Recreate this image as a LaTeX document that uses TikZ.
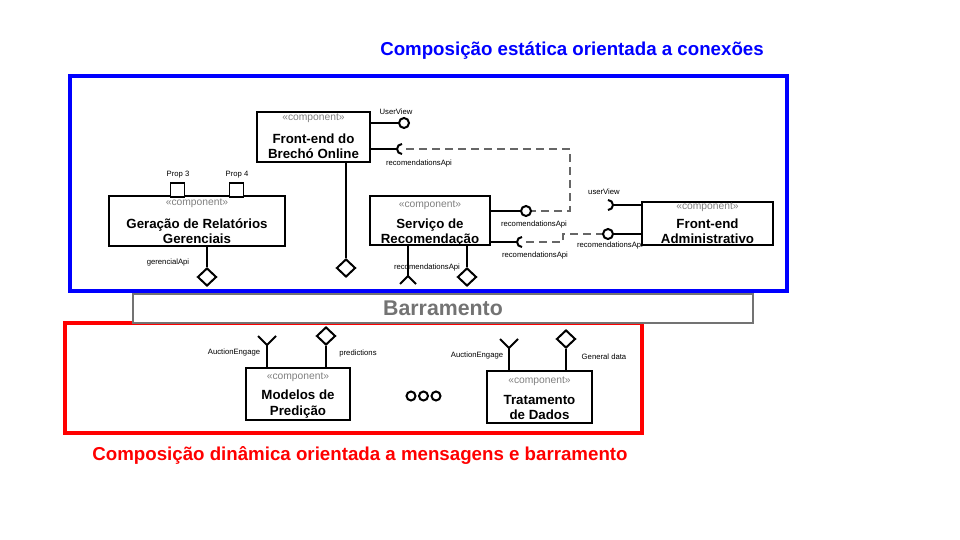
\documentclass[tikz,border=0pt]{standalone}
\usepackage{fontspec}
\setmainfont{Liberation Sans}
\usetikzlibrary{shapes.geometric}
\begin{document}
\begin{tikzpicture}[x=1pt,y=-1pt,
  comp/.style={draw, line width=2pt, inner sep=0pt, fill=white},
  stereo/.style={text=black!50, font=\fontsize{10.3}{12}\selectfont, inner sep=0pt},
  cname/.style={font=\bfseries\fontsize{13.3}{15.2}\selectfont, align=center, inner sep=0pt},
  small/.style={font=\fontsize{7.7}{9}\selectfont, inner sep=0pt},
  lolli/.style={circle, draw, line width=2pt, minimum size=10pt, inner sep=0pt},
  diam/.style={diamond, draw, line width=2pt, minimum width=19pt, minimum height=18pt, inner sep=0pt, fill=white},
  port/.style={draw, line width=1.8pt, minimum size=14pt, inner sep=0pt, fill=white},
  wire/.style={line width=2pt},
  dwire/.style={line width=2pt, draw=black!60, dash pattern=on 8pt off 5pt},
  title/.style={font=\bfseries\fontsize{18.7}{22}\selectfont, inner sep=0pt},
]
\useasboundingbox (0,0) rectangle (960,540);

% containers
\draw[red, line width=3.5pt] (65,323) rectangle (642,433);
\draw[blue, line width=4.5pt] (70,76) rectangle (787,291);
\node[draw=black!55, line width=2pt, fill=white, minimum width=620pt, minimum height=29pt, inner sep=0pt,
      text=black!55, font=\bfseries\fontsize{21.3}{24}\selectfont] (bus) at (443,308) {Barramento};

\node[title, text=blue] (t1) at (572,51) {Composição estática orientada a conexões};
\node[title, text=red] (t2) at (360,455) {Composição dinâmica orientada a mensagens e barramento};

% Front-end do Brechó Online
\node[comp, minimum width=113pt, minimum height=50pt] (fe) at (313.5,137) {};
\node[stereo] (fes) at (313.5,118.5) {«component»};
\node[cname] (fen) at (313.5,146.5) {Front-end do\\Brechó Online};
\node[lolli] (uv) at (404,123) {};
\draw[wire] (fe.east |- uv) -- (uv.west);
\node[small] (uvl) at (396,112) {UserView};
\coordinate (s1) at (402,149);
\draw[wire] (fe.east |- s1) -- ([xshift=-5]s1);
\draw[wire] ([shift={(0,-5)}]s1) arc[start angle=270, end angle=90, radius=5];
\node[small] (s1l) at (419,164) {recomendationsApi};
\node[diam] (d1) at (346,268) {};
\draw[wire] (fe.south -| d1) -- (d1.north);

% Geração de Relatórios Gerenciais
\node[comp, minimum width=176pt, minimum height=50pt] (ger) at (197,221) {};
\node[port] (p3) at (177.5,190) {};
\node[port] (p4) at (236.5,190) {};
\node[small] (p3l) at (178,175) {Prop 3};
\node[small] (p4l) at (237,175) {Prop 4};
\node[stereo] (gers) at (197,203) {«component»};
\node[cname] (gern) at (197,231) {Geração de Relatórios\\Gerenciais};
\node[diam] (d2) at (207,277) {};
\draw[wire] (ger.south -| d2) -- (d2.north);
\node[small] (d2l) at (168,263) {gerencialApi};

% Serviço de Recomendação
\node[comp, minimum width=120pt, minimum height=49pt] (srv) at (430,220.5) {};
\node[stereo] (srvs) at (430,205) {«component»};
\node[cname] (srvn) at (430,232.5) {Serviço de\\Recomendação};
\node[lolli] (l2) at (526,211) {};
\draw[wire] (srv.east |- l2) -- (l2.west);
\node[small] (l2l) at (534,225) {recomendationsApi};
\coordinate (s2) at (522,242);
\draw[wire] (srv.east |- s2) -- ([xshift=-5]s2);
\draw[wire] ([shift={(0,-5)}]s2) arc[start angle=270, end angle=90, radius=5];
\node[small] (s2l) at (535,256) {recomendationsApi};
\coordinate (f1) at (408,276);
\draw[wire] (srv.south -| f1) -- (f1);
\draw[wire] ([shift={(-8,8)}]f1) -- (f1) -- ([shift={(8,8)}]f1);
\node[small] (f1l) at (427,268) {recomendationsApi};
\node[diam] (d3) at (467,277) {};
\draw[wire] (srv.south -| d3) -- (d3.north);

% Front-end Administrativo
\node[comp, minimum width=131pt, minimum height=43pt] (adm) at (707.5,223.5) {};
\node[stereo] (adms) at (707.5,207.5) {«component»};
\node[cname] (admn) at (707.5,231) {Front-end\\Administrativo};
\coordinate (s3) at (608,205);
\draw[wire] (adm.west |- s3) -- ([xshift=5]s3);
\draw[wire] ([shift={(0,-5)}]s3) arc[start angle=270, end angle=450, radius=5];
\node[small] (s3l) at (604,192) {userView};
\node[lolli] (l3) at (608,234) {};
\draw[wire] (adm.west |- l3) -- (l3.east);
\node[small] (l3l) at (610,246) {recomendationsApi};

% dashed assemblies
\draw[dwire] ([xshift=4]s1) -- (570,149) -- (570,211) -- (l2.east);
\draw[dwire] ([xshift=4]s2) -- (563,242) -- (563,234) -- (l3.west);

% Modelos de Predição
\node[comp, minimum width=104pt, minimum height=52pt] (mod) at (298,394) {};
\node[stereo] (mods) at (298,377) {«component»};
\node[cname] (modn) at (298,404) {Modelos de\\Predição};
\coordinate (f2) at (267,345);
\draw[wire] (mod.north -| f2) -- (f2);
\draw[wire] ([shift={(-9,-9)}]f2) -- (f2) -- ([shift={(9,-9)}]f2);
\node[small] (f2l) at (234,353) {AuctionEngage};
\node[diam] (d4) at (326,336) {};
\draw[wire] (mod.north -| d4) -- (d4.south);
\node[small] (d4l) at (358,354) {predictions};

% Tratamento de Dados
\node[comp, minimum width=105pt, minimum height=52pt] (tra) at (539.5,397) {};
\node[stereo] (tras) at (539.5,381) {«component»};
\node[cname] (tran) at (539.5,407.5) {Tratamento\\de Dados};
\coordinate (f3) at (509,348);
\draw[wire] (tra.north -| f3) -- (f3);
\draw[wire] ([shift={(-9,-9)}]f3) -- (f3) -- ([shift={(9,-9)}]f3);
\node[small] (f3l) at (477,356) {AuctionEngage};
\node[diam] (d5) at (566,339) {};
\draw[wire] (tra.north -| d5) -- (d5.south);
\node[small] (d5l) at (604,357) {General data};

% ellipsis circles
\node[lolli, minimum size=9pt] (c1) at (411,396) {};
\node[lolli, minimum size=9pt] (c2) at (423.5,396) {};
\node[lolli, minimum size=9pt] (c3) at (436,396) {};
\end{tikzpicture}
\end{document}
